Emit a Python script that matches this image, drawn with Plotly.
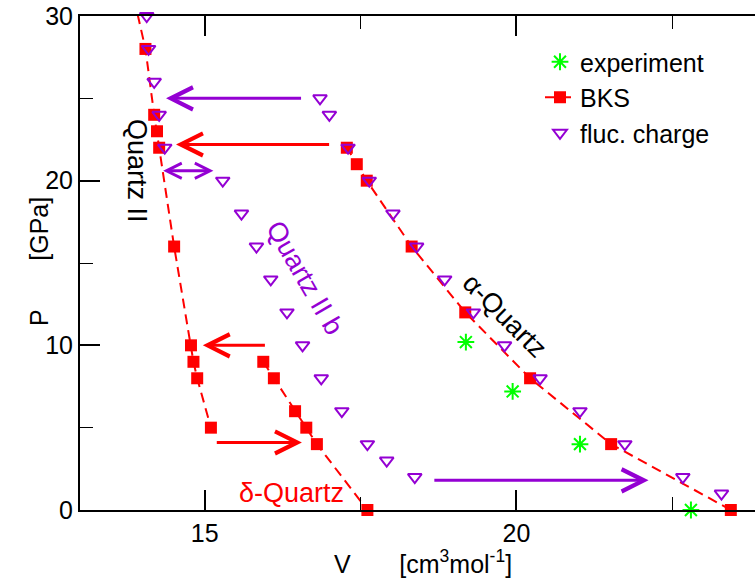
import plotly.graph_objects as go

# Experimental equation of state of alpha-quartz
exp_v = [19.19, 19.94, 21.02, 22.80]
exp_p = [10.2, 7.2, 4.0, 0.0]

# BKS potential: alpha-quartz branch, quartz II branch, delta-quartz branch
bks_v = [23.44, 21.52, 20.22, 19.18, 18.32, 17.60, 17.44, 17.28, None,
         13.81, 14.05, 14.19, 14.235, 14.27, 14.51, 14.78, 14.82, 14.88, 15.10, None,
         15.94, 16.11, 16.45, 16.63, 16.80, 17.61]
bks_p = [0, 4, 8, 12, 16, 20, 21, 22, None,
         32, 28, 24, 23, 22, 16, 10, 9, 8, 5, None,
         9, 8, 6, 5, 4, 0]

# Fluctuating-charge model: quartz II, quartz II b, alpha-quartz
fc_v = [14.07, 14.10, 14.19, 14.27, 14.36,
        15.29, 15.59, 15.83, 16.06, 16.32, 16.57, 16.87, 17.20, 17.61, 17.92, 18.37,
        16.85, 17.00, 17.30, 17.64, 18.02, 18.40, 18.85, 19.31, 19.81, 20.38, 21.02,
        21.74, 22.67, 23.29]
fc_p = [30, 28, 26, 24, 22,
        20, 18, 16, 14, 12, 10, 8, 6, 4, 3, 2,
        25, 24, 22, 20, 18, 16, 14, 12, 10, 8, 6, 4, 2, 1]

x_ticks = [15, 20]
y_ticks = [0, 10, 20, 30]

RED = "#ff0000"
VIOLET = "#9400d3"
GREEN = "#00ff00"
FONT = "Liberation Sans, Arial, Helvetica, sans-serif"

W, H = 755, 579
ML, MT, MB = 80, 16, 69
PW, PH = W - ML, H - MT - MB
X0 = 13.0
PX_PER_V = 62.34
X1 = X0 + PW / PX_PER_V

fig = go.Figure()
fig.add_trace(go.Scatter(
    x=exp_v, y=exp_p, mode="markers", name="experiment", cliponaxis=False,
    marker=dict(symbol="asterisk-open", size=14, color=GREEN,
                line=dict(color=GREEN, width=2))))
fig.add_trace(go.Scatter(
    x=bks_v, y=bks_p, mode="lines+markers", name="BKS", cliponaxis=False,
    connectgaps=False,
    line=dict(color=RED, width=2, dash="10px,6px"),
    marker=dict(symbol="square", size=12, color=RED)))
fig.add_trace(go.Scatter(
    x=fc_v, y=fc_p, mode="markers", name="fluc. charge", cliponaxis=False,
    marker=dict(symbol="triangle-down-open", size=12, color=VIOLET,
                line=dict(color=VIOLET, width=2))))


def arrow(tail, tip, p, color, size=1.45, both=False):
    a = dict(x=tip, y=p, ax=tail, ay=p, xref="x", yref="y", axref="x", ayref="y",
             text="", showarrow=True, arrowhead=5, arrowsize=size, arrowwidth=3,
             arrowcolor=color, standoff=0)
    if both:
        a.update(arrowside="end+start", startarrowhead=5, startarrowsize=size,
                 startstandoff=0)
    return a


annotations = [
    arrow(16.57, 14.38, 25.0, VIOLET),
    arrow(17.02, 14.54, 22.2, RED),
    arrow(14.31, 15.14, 20.6, VIOLET, size=1.0, both=True),
    arrow(15.99, 14.97, 10.0, RED),
    arrow(15.17, 16.56, 4.1, RED),
    arrow(18.66, 22.12, 1.8, VIOLET),
    dict(x=13.91, y=20.6, xref="x", yref="y", text="Quartz II", showarrow=False,
         textangle=90, font=dict(size=27, color="black", family=FONT)),
    dict(x=16.61, y=14.1, xref="x", yref="y", text="Quartz II b", showarrow=False,
         textangle=60, font=dict(size=27, color=VIOLET, family=FONT)),
    dict(x=19.82, y=11.8, xref="x", yref="y", text="α-Quartz", showarrow=False,
         textangle=45, font=dict(size=27, color="black", family=FONT)),
    dict(x=16.385, y=1.05, xref="x", yref="y", text="δ-Quartz", showarrow=False,
         font=dict(size=27, color=RED, family=FONT)),
    # axis titles
    dict(x=(422.5 - ML) / PW, y=(MT + PH - 580) / PH, xref="paper", yref="paper",
         yanchor="bottom",
         text="V" + "\u00a0" * 7 + "[cm<sup>3</sup>mol<sup>-1</sup>]",
         showarrow=False, font=dict(size=25, color="black", family=FONT)),
    dict(x=(23 - ML) / PW, y=(MT + PH - 262) / PH, xref="paper", yref="paper",
         text="P" + "\u00a0" * 7 + "[GPa]", textangle=-90,
         showarrow=False, font=dict(size=25, color="black", family=FONT)),
]

axis_common = dict(
    showgrid=False, zeroline=False, showline=True, linecolor="black", linewidth=2,
    ticks="inside", ticklen=20, tickwidth=2, tickcolor="black",
    tickfont=dict(size=25, color="black", family=FONT),
)

fig.update_layout(
    width=W, height=H,
    margin=dict(l=ML, r=0, t=MT, b=MB, pad=0),
    paper_bgcolor="white", plot_bgcolor="white",
    font=dict(family=FONT, color="black"),
    xaxis=dict(range=[X0, X1], tickvals=x_ticks, mirror="ticks",
               minor=dict(dtick=2.5, tick0=0, ticks="inside", ticklen=13,
                          tickwidth=1, tickcolor="black"),
               **axis_common),
    yaxis=dict(range=[0, 30], tickvals=y_ticks,
               minor=dict(dtick=5, tick0=0, ticks="inside", ticklen=13,
                          tickwidth=1, tickcolor="black"),
               **axis_common),
    yaxis2=dict(range=[0, 30], overlaying="y", side="right", showline=False,
                showgrid=False, zeroline=False, showticklabels=False,
                tickvals=y_ticks, ticks="inside", ticklen=10, tickwidth=2,
                tickcolor="black",
                minor=dict(dtick=5, tick0=0, ticks="inside", ticklen=3,
                           tickwidth=1, tickcolor="black")),
    legend=dict(x=(540 - ML) / PW, y=(MT + PH - 39) / PH, xanchor="left",
                yanchor="top", bgcolor="rgba(0,0,0,0)", borderwidth=0,
                font=dict(size=25, color="black", family=FONT)),
    annotations=annotations,
    showlegend=True,
)

fig.write_html("out.html")
